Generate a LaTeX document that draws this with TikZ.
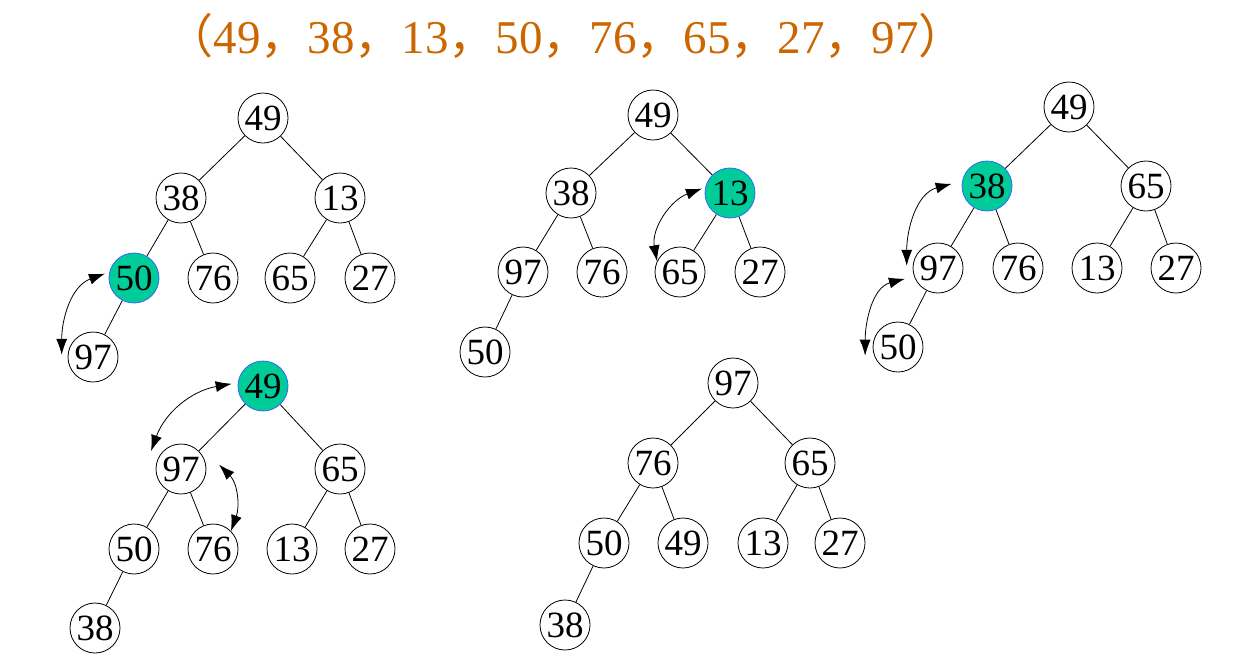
\documentclass[tikz,border=0pt]{standalone}
\usepackage{fontspec}
\setmainfont{Liberation Serif}
\newfontfamily\cjk{Noto Sans CJK SC}
\usetikzlibrary{arrows.meta}
\definecolor{titleorange}{RGB}{204,102,0}
\definecolor{heapgreen}{RGB}{0,204,153}
\definecolor{heapblue}{RGB}{51,102,255}
\newcommand{\dou}{{\cjk ，}}

\begin{document}
\begin{tikzpicture}[x=1pt,y=-1pt,line width=0.8pt,
  key/.style={circle,draw,inner sep=0pt,minimum size=50pt,
    font=\fontsize{37}{37}\selectfont},
  hot/.style={key,fill=heapgreen,draw=heapblue},
  trade/.style={{Latex[length=16pt,width=11pt]}-{Latex[length=16pt,width=11pt]}}]
  \useasboundingbox (0,0) rectangle (1238,659);
  \node[color=titleorange,font=\fontsize{47}{47}\selectfont] (title) at (566,36)
    {{\cjk （}49\dou 38\dou 13\dou 50\dou 76\dou 65\dou 27\dou 97{\cjk ）}};
  % step 1
  \node[key] (a49) at (263,118) {49};
  \node[key] (a38) at (181,198) {38};
  \node[key] (a13) at (340,198) {13};
  \node[hot] (a50) at (134,278) {50};
  \node[key] (a76) at (213,278) {76};
  \node[key] (a65) at (290,278) {65};
  \node[key] (a27) at (370,278) {27};
  \node[key] (a97) at (93,357) {97};
  \draw (a49) -- (a38);
  \draw (a49) -- (a13);
  \draw (a38) -- (a50);
  \draw (a38) -- (a76);
  \draw (a13) -- (a65);
  \draw (a13) -- (a27);
  \draw (a50) -- (a97);
  \draw[trade] ([xshift=-4pt]a50.170) to[out=200,in=90] ([xshift=-6pt]a97.175);
  % step 2
  \node[key] (b49) at (653,115) {49};
  \node[key] (b38) at (571,193) {38};
  \node[hot] (b13) at (730,193) {13};
  \node[key] (b97) at (523,272) {97};
  \node[key] (b76) at (602,272) {76};
  \node[key] (b65) at (680,272) {65};
  \node[key] (b27) at (760,272) {27};
  \node[key] (b50) at (485,352) {50};
  \draw (b49) -- (b38);
  \draw (b49) -- (b13);
  \draw (b38) -- (b97);
  \draw (b38) -- (b76);
  \draw (b13) -- (b65);
  \draw (b13) -- (b27);
  \draw (b97) -- (b50);
  \draw[trade] ([xshift=-3pt]b13.170) to[out=200,in=100] (b65.155);
  % step 3
  \node[key] (c49) at (1069,107) {49};
  \node[hot] (c38) at (987,186) {38};
  \node[key] (c65) at (1146,186) {65};
  \node[key] (c97) at (938,268) {97};
  \node[key] (c76) at (1018,268) {76};
  \node[key] (c13) at (1097,268) {13};
  \node[key] (c27) at (1176,268) {27};
  \node[key] (c50) at (898,347) {50};
  \draw (c49) -- (c38);
  \draw (c49) -- (c65);
  \draw (c38) -- (c97);
  \draw (c38) -- (c76);
  \draw (c65) -- (c13);
  \draw (c65) -- (c27);
  \draw (c97) -- (c50);
  \draw[trade] ([xshift=-10pt]c38.175) to[out=195,in=90] ([xshift=-6pt]c97.175);
  \draw[trade] ([xshift=-10pt]c97.205) to[out=195,in=90] ([xshift=-9pt]c50.200);
  % step 4
  \node[hot] (d49) at (263,386) {49};
  \node[key] (d97) at (181,469) {97};
  \node[key] (d65) at (340,469) {65};
  \node[key] (d50) at (134,549) {50};
  \node[key] (d76) at (213,549) {76};
  \node[key] (d13) at (292,549) {13};
  \node[key] (d27) at (370,549) {27};
  \node[key] (d38) at (95,628) {38};
  \draw (d49) -- (d97);
  \draw (d49) -- (d65);
  \draw (d97) -- (d50);
  \draw (d97) -- (d76);
  \draw (d65) -- (d13);
  \draw (d65) -- (d27);
  \draw (d50) -- (d38);
  \draw[trade] ([xshift=-6pt]d49.175) to[out=190,in=70] ([xshift=-12pt]d97.135);
  \draw[trade] ([xshift=13pt]d97.10) to[out=-45,in=70] (d76.45);
  % step 5
  \node[key] (e97) at (733,383) {97};
  \node[key] (e76) at (653,463) {76};
  \node[key] (e65) at (810,463) {65};
  \node[key] (e50) at (604,543) {50};
  \node[key] (e49) at (683,543) {49};
  \node[key] (e13) at (763,543) {13};
  \node[key] (e27) at (840,543) {27};
  \node[key] (e38) at (565,625) {38};
  \draw (e97) -- (e76);
  \draw (e97) -- (e65);
  \draw (e76) -- (e50);
  \draw (e76) -- (e49);
  \draw (e65) -- (e13);
  \draw (e65) -- (e27);
  \draw (e50) -- (e38);
\end{tikzpicture}
\end{document}
